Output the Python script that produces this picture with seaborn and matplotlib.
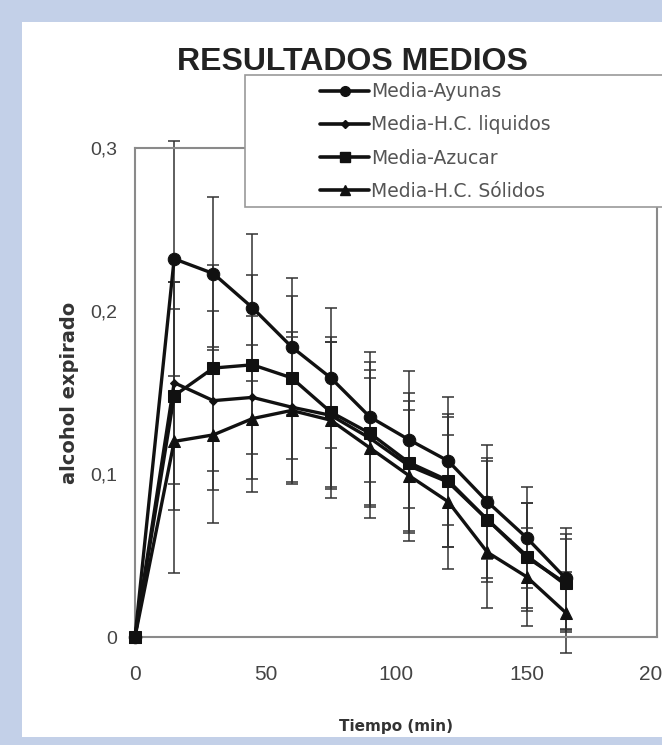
import numpy as np
import pandas as pd
import matplotlib.pyplot as plt
import seaborn as sns
from matplotlib.patches import Rectangle
from matplotlib.ticker import FuncFormatter

# Data
tiempo = [0, 15, 30, 45, 60, 75, 90, 105, 120, 135, 150, 165]
series = ['Media-Ayunas', 'Media-H.C. liquidos', 'Media-Azucar', 'Media-H.C. Sólidos']
ayunas = [0, 0.232, 0.223, 0.202, 0.178, 0.159, 0.135, 0.121, 0.108, 0.083, 0.061, 0.036]
liquidos = [0, 0.156, 0.145, 0.147, 0.141, 0.136, 0.122, 0.105, 0.095, 0.072, 0.050, 0.032]
azucar = [0, 0.148, 0.165, 0.167, 0.159, 0.138, 0.125, 0.107, 0.096, 0.072, 0.049, 0.033]
solidos = [0, 0.120, 0.124, 0.134, 0.139, 0.133, 0.116, 0.099, 0.083, 0.052, 0.037, 0.015]
sd_ayunas = [0, 0.072, 0.047, 0.045, 0.042, 0.043, 0.040, 0.042, 0.039, 0.035, 0.031, 0.031]
sd_liquidos = [0, 0.062, 0.055, 0.050, 0.046, 0.045, 0.042, 0.040, 0.040, 0.036, 0.032, 0.028]
sd_azucar = [0, 0.070, 0.063, 0.055, 0.050, 0.046, 0.044, 0.043, 0.041, 0.038, 0.033, 0.030]
sd_solidos = [0, 0.081, 0.054, 0.045, 0.045, 0.048, 0.043, 0.040, 0.041, 0.034, 0.030, 0.025]

means = [ayunas, liquidos, azucar, solidos]
sds = [sd_ayunas, sd_liquidos, sd_azucar, sd_solidos]
markers = {'Media-Ayunas': 'o', 'Media-H.C. liquidos': 'D', 'Media-Azucar': 's', 'Media-H.C. Sólidos': '^'}
msizes = {'Media-Ayunas': 9, 'Media-H.C. liquidos': 4.5, 'Media-Azucar': 9, 'Media-H.C. Sólidos': 8}

df = pd.concat([pd.DataFrame({'Tiempo': tiempo, 'valor': m, 'sd': s, 'serie': n})
                for n, m, s in zip(series, means, sds)], ignore_index=True)

sns.set_theme(style="white")
plt.rcParams['font.family'] = ['Liberation Sans', 'DejaVu Sans']

fig = plt.figure(figsize=(6.62, 7.45), dpi=100, facecolor='#c3d0e8')

# white panel behind everything
bg = fig.add_axes([0, 0, 1, 1], zorder=-10)
bg.axis('off')
bg.add_patch(Rectangle((22 / 662, 8 / 745), 1, 1 - 30 / 745, facecolor='white', edgecolor='none'))

ax = fig.add_axes([135 / 662, 1 - 637 / 745, 522 / 662, 489 / 745], zorder=1)
ax.set_facecolor('none')

for n in series:
    d = df[df['serie'] == n]
    ax.errorbar(d['Tiempo'], d['valor'], yerr=d['sd'], fmt='none', ecolor='#333333',
                elinewidth=1.1, capsize=4, capthick=1.1, clip_on=False, zorder=2)

n_before = len(ax.get_lines())
sns.lineplot(data=df, x='Tiempo', y='valor', hue='serie', style='serie', markers=markers,
             dashes=False, palette=['#111111'] * 4, linewidth=2.4, markersize=8,
             markeredgecolor='#111111', ax=ax, legend=False, zorder=3)
for line, n in zip(ax.get_lines()[n_before:], series):
    line.set_markersize(msizes[n])
    line.set_clip_on(False)

ax.set_xlim(0, 200)
ax.set_ylim(0, 0.3)
ax.set_xticks([0, 50, 100, 150, 200])
ax.set_yticks([0, 0.1, 0.2, 0.3])
ax.yaxis.set_major_formatter(FuncFormatter(lambda v, p: '0' if v == 0 else f'{v:.1f}'.replace('.', ',')))
ax.tick_params(axis='x', labelsize=15, colors='#444444', length=0, pad=20)
ax.tick_params(axis='y', labelsize=14, colors='#444444', length=0, pad=13)
for sp in ax.spines.values():
    sp.set_color('#8a8a8a')
    sp.set_linewidth(1.5)

ax.set_xlabel('Tiempo (min)', fontsize=11, fontweight='bold', color='#333333', labelpad=25,
              family='DejaVu Sans')
ax.set_ylabel('alcohol expirado', fontsize=14, fontweight='bold', color='#333333', labelpad=8,
              family='DejaVu Sans')
fig.text(352 / 662, 1 - 62 / 745, 'RESULTADOS MEDIOS', ha='center', va='center',
         fontsize=23, fontweight='bold', color='#222222')

# legend box (extends past the right edge, as in the scan)
top = fig.add_axes([0, 0, 1, 1], zorder=5)
top.axis('off')
top.set_xlim(0, 1)
top.set_ylim(0, 1)
top.add_patch(Rectangle((245 / 662, 1 - 207 / 745), 420 / 662, 132 / 745,
                        facecolor='white', edgecolor='#999999', linewidth=1.2))
handles = [plt.Line2D([], [], color='#111111', lw=2.6, marker=markers[n],
                      markersize=4 if n == 'Media-H.C. liquidos' else 7)
           for n in series]
leg = top.legend(handles, series, loc='upper left', bbox_to_anchor=(307 / 662, 1 - 69 / 745),
                 frameon=False, prop={'family': 'DejaVu Sans', 'size': 13.5}, handlelength=2.6,
                 handletextpad=0.1, labelspacing=0.76, borderpad=0.2)
for t in leg.get_texts():
    t.set_color('#555555')

fig.savefig('out.png', dpi=100, facecolor=fig.get_facecolor())
